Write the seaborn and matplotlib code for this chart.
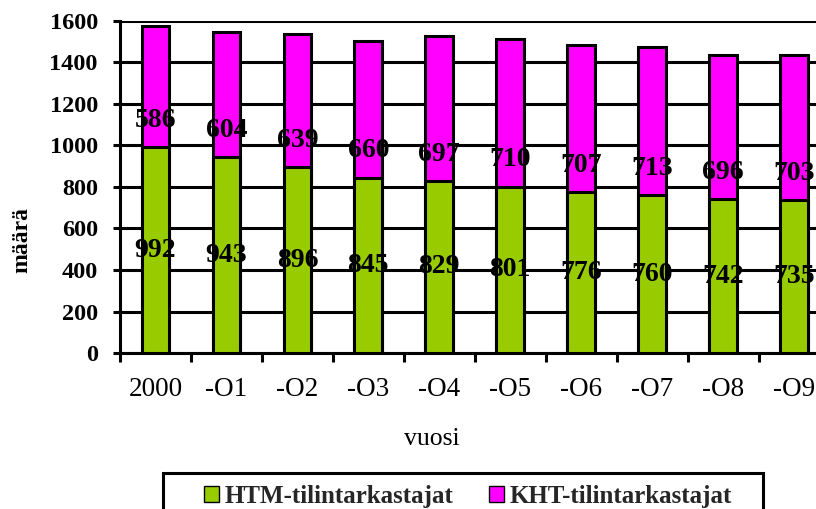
import matplotlib
matplotlib.use("Agg")
import matplotlib.pyplot as plt
from matplotlib.patches import Patch, Rectangle
import seaborn as sns
import pandas as pd
import numpy as np

years = ["2000", "-O1", "-O2", "-O3", "-O4", "-O5", "-O6", "-O7", "-O8", "-O9"]
htm = [992, 943, 896, 845, 829, 801, 776, 760, 742, 735]
kht = [586, 604, 639, 660, 697, 710, 707, 713, 696, 703]
htm_label = "HTM-tilintarkastajat"
kht_label = "KHT-tilintarkastajat"

GREEN = "#99CC00"
MAGENTA = "#FF00FF"
LW = 2.2

sns.set_theme(style="white")
plt.rcParams["font.family"] = ["Liberation Serif", "DejaVu Serif"]

df = pd.DataFrame({"vuosi": years, "HTM": htm, "KHT": kht})
df["total"] = df["HTM"] + df["KHT"]

fig = plt.figure(figsize=(8.16, 5.09), dpi=100)
W, H = 816, 509
x0, x1, y0, y1 = 120, 829.5, 21, 353
ax = fig.add_axes([x0 / W, (H - y1) / H, (x1 - x0) / W, (y1 - y0) / H])

# Stacked bars: full total in magenta, HTM share drawn over it in green
sns.barplot(data=df, x="vuosi", y="total", color=MAGENTA, width=0.39,
            edgecolor="black", linewidth=LW, saturation=1, ax=ax, zorder=3)
sns.barplot(data=df, x="vuosi", y="HTM", color=GREEN, width=0.39,
            edgecolor="black", linewidth=LW, saturation=1, ax=ax, zorder=4)

ax.set_xlim(-0.5, len(years) - 0.5)
ax.set_ylim(0, 1600)
ax.set_yticks(np.arange(0, 1601, 200))
ax.yaxis.grid(True, color="black", linewidth=LW)
ax.xaxis.grid(False)
ax.set_axisbelow(True)

for side in ["top", "right"]:
    ax.spines[side].set_visible(False)
for side in ["left", "bottom"]:
    ax.spines[side].set_color("black")
    ax.spines[side].set_linewidth(LW)

# Category-boundary tick marks on the x axis
ax.set_xticks(np.arange(-0.5, len(years), 1.0), minor=True)
ax.tick_params(axis="x", which="minor", direction="out", length=6.5,
               width=LW, color="black", bottom=True)
ax.tick_params(axis="x", which="major", length=0, pad=17, labelsize=19.5,
               labelcolor="black")
ax.tick_params(axis="y", which="major", direction="out", length=5, width=LW,
               color="black", left=True, pad=11, labelsize=17.5,
               labelcolor="black")
for lbl in ax.get_yticklabels():
    lbl.set_fontweight("bold")

ax.set_xlabel("")
ax.set_ylabel("")

# Value labels
for i in range(len(years)):
    ax.text(i, htm[i] / 2, str(htm[i]), ha="center", va="center",
            fontsize=20, fontweight="bold", color="black", zorder=6)
    ax.text(i, htm[i] + 130, str(kht[i]), ha="center", va="center",
            fontsize=20, fontweight="bold", color="black", zorder=6)

fig.text(432 / W, 1 - 439 / H, "vuosi", ha="center", va="center",
         fontsize=18.5, color="black")
fig.text(22 / W, 1 - 240 / H, "määrä", ha="center", va="center",
         rotation=90, fontsize=17, fontweight="bold", color="black")

# Legend box (open at the bottom edge of the figure)
fig.patches.append(Rectangle((163 / W, -0.05), (763 - 163) / W,
                             0.05 + (H - 473) / H, transform=fig.transFigure,
                             facecolor="white", edgecolor="black",
                             linewidth=LW, zorder=1))
handles = [Patch(facecolor=GREEN, edgecolor="black", linewidth=1.0),
           Patch(facecolor=MAGENTA, edgecolor="black", linewidth=1.0)]
leg = fig.legend(handles, [htm_label, kht_label], ncol=2,
                 loc="center", bbox_to_anchor=(468 / W, 1 - 496 / H),
                 frameon=False, prop={"size": 18, "weight": "bold"},
                 handlelength=0.6, handleheight=0.6, handletextpad=0.2,
                 columnspacing=1.45, borderpad=0, borderaxespad=0)
leg.set_zorder(2)

fig.savefig("out.png", dpi=100)
